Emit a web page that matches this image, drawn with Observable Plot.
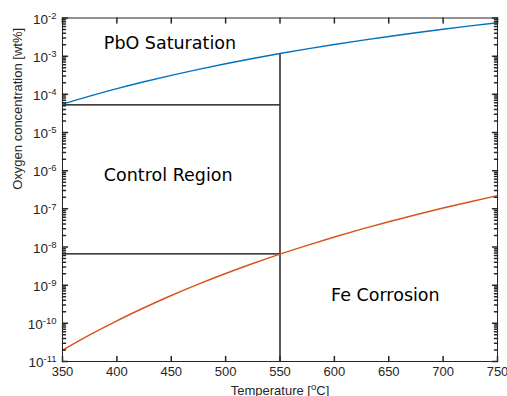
<!DOCTYPE html>
<html><head><meta charset="utf-8">
<script src="https://cdn.jsdelivr.net/npm/d3@7"></script>
<script src="https://cdn.jsdelivr.net/npm/@observablehq/plot@0.6"></script>
<style>body{margin:0;background:#fff}</style>
</head><body><div id="chart"></div>
<script>
// Data
const temperature = [350,375,400,425,450,475,500,525,550,575,600,625,650,675,700,725,750];
const pboSaturation = [5.53e-5,8.98e-5,1.406e-4,2.13e-4,3.14e-4,4.51e-4,6.33e-4,8.70e-4,1.172e-3,1.551e-3,2.02e-3,2.594e-3,3.284e-3,4.107e-3,5.077e-3,6.213e-3,7.52e-3];
const feCorrosion = [1.98e-11,4.97e-11,1.164e-10,2.56e-10,5.36e-10,1.064e-9,2.02e-9,3.69e-9,6.5e-9,1.107e-8,1.828e-8,2.93e-8,4.59e-8,7.01e-8,1.05e-7,1.538e-7,2.213e-7];
const xTicks = [350,400,450,500,550,600,650,700,750];
const yExponents = [-11,-10,-9,-8,-7,-6,-5,-4,-3,-2];
const controlTemp = 550;
const upperLimit = 5.3e-5;
const lowerLimit = 6.6e-9;
const regionNames = ["PbO Saturation","Control Region","Fe Corrosion"];
const regionX = [388, 388, 597];
const regionY = [2.15e-3, 7.5e-7, 5.4e-10];
const xLabel = "Temperature [oC]";
const yLabel = "Oxygen concentration [wt%]";

const xDomain = [350, 750];
const yDomain = [1e-11, 1e-2];
const yTicks = yExponents.map(e => Math.pow(10, e));
const yMinor = [];
for (const e of yExponents.slice(0, -1)) for (let m = 2; m <= 9; m++) yMinor.push(m * Math.pow(10, e));

const tickShape = {draw(ctx, l) { ctx.moveTo(0, 0); ctx.lineTo(0, -l); }};
const axisColor = "#262626";
const annotations = regionNames.map((t, i) => ({t, x: regionX[i], y: regionY[i]}));
const pboAt = pboSaturation[temperature.indexOf(controlTemp)];

const chart = Plot.plot({
  width: 507, height: 396,
  marginLeft: 62, marginRight: 10, marginTop: 17.5, marginBottom: 35,
  style: {fontFamily: "'Liberation Sans', Arial, sans-serif", fontSize: "13px", background: "#fff", color: axisColor},
  x: {domain: xDomain},
  y: {type: "log", domain: yDomain},
  marks: [
    Plot.ruleY([upperLimit], {x1: () => xDomain[0], x2: () => controlTemp, stroke: "#000", strokeWidth: 1.3}),
    Plot.ruleY([lowerLimit], {x1: () => xDomain[0], x2: () => controlTemp, stroke: "#000", strokeWidth: 1.3}),
    Plot.ruleX([controlTemp], {y1: () => yDomain[0], y2: () => pboAt, stroke: "#000", strokeWidth: 1.3}),
    Plot.line(temperature, {x: d => d, y: (d, i) => pboSaturation[i], stroke: "#0072BD", strokeWidth: 1.4, curve: "monotone-x"}),
    Plot.line(temperature, {x: d => d, y: (d, i) => feCorrosion[i], stroke: "#D95319", strokeWidth: 1.4, curve: "monotone-x"}),
    // inward ticks
    Plot.vector(xTicks, {x: d => d, frameAnchor: "bottom", length: 5, rotate: 0, anchor: "start", shape: tickShape, stroke: axisColor}),
    Plot.vector(xTicks, {x: d => d, frameAnchor: "top", length: 5, rotate: 180, anchor: "start", shape: tickShape, stroke: axisColor}),
    Plot.vector(yTicks, {y: d => d, frameAnchor: "left", length: 5, rotate: 90, anchor: "start", shape: tickShape, stroke: axisColor}),
    Plot.vector(yTicks, {y: d => d, frameAnchor: "right", length: 5, rotate: -90, anchor: "start", shape: tickShape, stroke: axisColor}),
    Plot.vector(yMinor, {y: d => d, frameAnchor: "left", length: 3, rotate: 90, anchor: "start", shape: tickShape, stroke: axisColor}),
    Plot.vector(yMinor, {y: d => d, frameAnchor: "right", length: 3, rotate: -90, anchor: "start", shape: tickShape, stroke: axisColor}),
    Plot.frame({stroke: axisColor, strokeWidth: 1}),
    // tick labels
    Plot.axisX({ticks: xTicks, tickSize: 0, tickPadding: 5.5, label: null, fontSize: 13, tickFormat: d => String(d)}),
    Plot.axisY({ticks: yTicks, tickSize: 0, tickPadding: 6, label: null, fontSize: 13.5, dy: 1.2, tickFormat: d => "10^" + Math.round(Math.log10(d))}),
    // axis titles
    Plot.text([xLabel], {text: d => d, frameAnchor: "bottom", lineAnchor: "bottom", dy: 33, fontSize: 13, fill: axisColor}),
    Plot.text([yLabel], {text: d => d, frameAnchor: "left", lineAnchor: "bottom", rotate: -90, dx: -41, fontSize: 13, fill: axisColor}),
    // region annotations
    Plot.text(annotations, {x: "x", y: "y", text: "t", textAnchor: "start", fontFamily: "'DejaVu Sans', sans-serif", fontSize: 17.5, fill: "#000"})
  ]
});

// superscripts for exponents
chart.querySelectorAll("text").forEach(t => {
  const s = t.textContent;
  if (/^10\^/.test(s)) {
    const exp = s.split("^")[1];
    t.textContent = "10";
    const sup = document.createElementNS("http://www.w3.org/2000/svg", "tspan");
    sup.setAttribute("dy", "-4.8");
    sup.setAttribute("font-size", "9.5");
    sup.textContent = exp;
    t.appendChild(sup);
  } else if (s === xLabel) {
    t.textContent = "Temperature [";
    const sup = document.createElementNS("http://www.w3.org/2000/svg", "tspan");
    sup.setAttribute("dy", "-5");
    sup.setAttribute("font-size", "9.5");
    sup.textContent = "o";
    t.appendChild(sup);
    const rest = document.createElementNS("http://www.w3.org/2000/svg", "tspan");
    rest.setAttribute("dy", "5");
    rest.textContent = "C]";
    t.appendChild(rest);
  }
});
document.getElementById("chart").appendChild(chart);
</script>
</body></html>
